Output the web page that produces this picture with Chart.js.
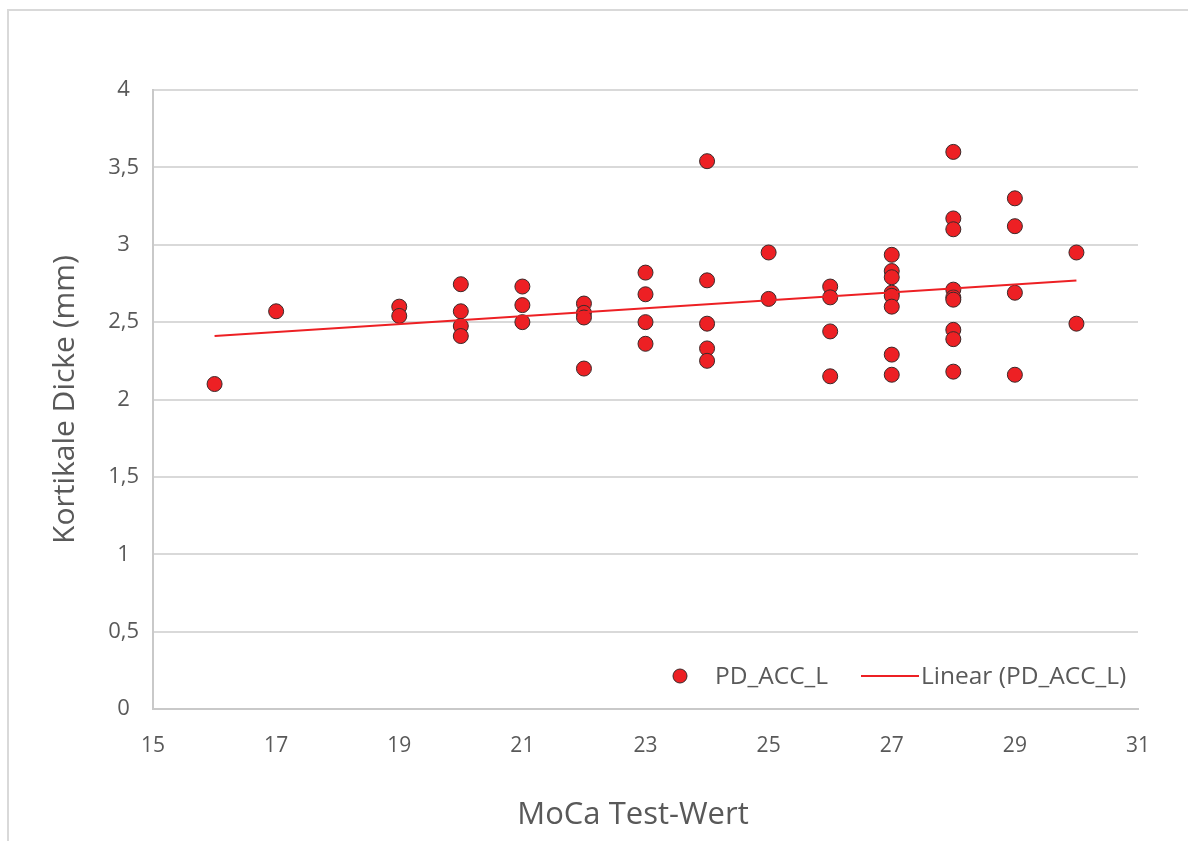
<!DOCTYPE html>
<html>
<head>
<meta charset="utf-8">
<script src="https://cdn.jsdelivr.net/npm/chart.js@4/dist/chart.umd.min.js"></script>
<style>
  html, body { margin: 0; padding: 0; background: #ffffff; }
  #wrap { position: relative; width: 1188px; height: 841px; }
</style>
</head>
<body>
<div id="wrap"><canvas id="c" width="1188" height="841"></canvas></div>
<script>
// MoCA score per subject (x) and cortical thickness in mm (y)
const mocaScores = [
  16,
  17,
  19, 19,
  20, 20, 20, 20,
  21, 21, 21,
  22, 22, 22, 22,
  23, 23, 23, 23,
  24, 24, 24, 24, 24,
  25, 25,
  26, 26, 26, 26,
  27, 27, 27, 27, 27, 27, 27, 27,
  28, 28, 28, 28, 28, 28, 28, 28, 28,
  29, 29, 29, 29,
  30, 30
];
const thickness = [
  2.10,
  2.57,
  2.60, 2.54,
  2.745, 2.57, 2.475, 2.41,
  2.73, 2.61, 2.50,
  2.62, 2.56, 2.53, 2.20,
  2.82, 2.68, 2.50, 2.36,
  3.54, 2.77, 2.49, 2.33, 2.25,
  2.95, 2.65,
  2.73, 2.66, 2.44, 2.15,
  2.935, 2.83, 2.79, 2.69, 2.67, 2.60, 2.29, 2.16,
  3.60, 3.17, 3.10, 2.71, 2.66, 2.645, 2.45, 2.39, 2.18,
  3.30, 3.12, 2.69, 2.16,
  2.95, 2.49
];
const seriesName = 'PD_ACC_L';
const trendName = 'Linear (PD_ACC_L)';
const xTicks = [15, 17, 19, 21, 23, 25, 27, 29, 31];
const yTicks = [0, 0.5, 1, 1.5, 2, 2.5, 3, 3.5, 4];
const xTitle = 'MoCa Test-Wert';
const yTitle = 'Kortikale Dicke (mm)';

// least-squares fit for the linear trend line
function linearFit(xs, ys) {
  const n = xs.length;
  let sx = 0, sy = 0, sxx = 0, sxy = 0;
  for (let i = 0; i < n; i++) { sx += xs[i]; sy += ys[i]; sxx += xs[i] * xs[i]; sxy += xs[i] * ys[i]; }
  const slope = (n * sxy - sx * sy) / (n * sxx - sx * sx);
  const intercept = (sy - slope * sx) / n;
  return { slope, intercept };
}
const fit = linearFit(mocaScores, thickness);
const xMin = Math.min(...mocaScores), xMax = Math.max(...mocaScores);
const trendPoints = [xMin, xMax].map(x => ({ x, y: fit.intercept + fit.slope * x }));

const points = mocaScores.map((x, i) => ({ x, y: thickness[i] }));

const TEXT = '#595959';
const GRID = '#d9d9d9';
const FONT = "'Open Sans', 'Liberation Sans', sans-serif";

// outer frame of the chart box
const framePlugin = {
  id: 'frame',
  beforeDraw(chart) {
    const ctx = chart.ctx;
    ctx.save();
    ctx.fillStyle = '#ffffff';
    ctx.fillRect(0, 0, chart.width, chart.height);
    ctx.strokeStyle = GRID;
    ctx.lineWidth = 2;
    ctx.beginPath();
    ctx.moveTo(8, chart.height);
    ctx.lineTo(8, 10);
    ctx.lineTo(chart.width, 10);
    ctx.stroke();
    ctx.restore();
  }
};

// horizontal axis title, centred on the whole chart box
const xTitlePlugin = {
  id: 'xTitle',
  afterDraw(chart) {
    const ctx = chart.ctx;
    ctx.save();
    ctx.font = '31px ' + FONT;
    ctx.fillStyle = TEXT;
    ctx.textAlign = 'center';
    ctx.textBaseline = 'middle';
    ctx.fillText(xTitle, 633, 815);
    ctx.restore();
  }
};

// legend placed inside the plot area, lower right
const legendPlugin = {
  id: 'insideLegend',
  afterDraw(chart) {
    const ctx = chart.ctx;
    const ds0 = chart.data.datasets[0];
    const ds1 = chart.data.datasets[1];
    const y = 676;
    ctx.save();
    ctx.font = '24.5px ' + FONT;
    ctx.textBaseline = 'middle';
    ctx.beginPath();
    ctx.arc(680, y, 7, 0, Math.PI * 2);
    ctx.fillStyle = ds0.backgroundColor;
    ctx.fill();
    ctx.lineWidth = 1;
    ctx.strokeStyle = ds0.borderColor;
    ctx.stroke();
    ctx.fillStyle = TEXT;
    ctx.textAlign = 'left';
    ctx.fillText(ds0.label, 715, y + 1);
    ctx.beginPath();
    ctx.moveTo(861, y);
    ctx.lineTo(919, y);
    ctx.strokeStyle = ds1.borderColor;
    ctx.lineWidth = 2;
    ctx.stroke();
    ctx.fillText(ds1.label, 921, y + 1);
    ctx.restore();
  }
};

new Chart(document.getElementById('c'), {
  data: {
    datasets: [
      {
        type: 'scatter',
        label: seriesName,
        data: points,
        backgroundColor: '#ed2024',
        borderColor: '#3a2a2a',
        borderWidth: 1,
        pointRadius: 7.5,
        pointHoverRadius: 7.5,
        order: 2
      },
      {
        type: 'line',
        label: trendName,
        data: trendPoints,
        borderColor: '#ed2024',
        borderWidth: 2,
        pointRadius: 0,
        fill: false,
        order: 1
      }
    ]
  },
  options: {
    responsive: false,
    animation: false,
    devicePixelRatio: 1,
    layout: { padding: { left: 0, right: 50, top: 90, bottom: 0 } },
    plugins: {
      legend: { display: false },
      tooltip: { enabled: false }
    },
    scales: {
      x: {
        type: 'linear',
        min: 15,
        max: 31,
        afterBuildTicks(scale) { scale.ticks = xTicks.map(v => ({ value: v })); },
        afterFit(scale) { scale.height = 132; },
        ticks: {
          color: TEXT,
          font: { family: FONT, size: 21 },
          padding: 24,
          maxRotation: 0,
          callback: v => String(v)
        },
        grid: { display: false, drawTicks: false },
        border: { display: true, color: '#c9c9c9', width: 2 },
        title: { display: false }
      },
      y: {
        type: 'linear',
        min: 0,
        max: 4,
        afterBuildTicks(scale) { scale.ticks = yTicks.map(v => ({ value: v })); },
        afterFit(scale) { scale.width = 153; },
        ticks: {
          color: TEXT,
          font: { family: FONT, size: 22 },
          padding: 14,
          crossAlign: 'center',
          callback: v => String(v).replace('.', ',')
        },
        grid: { color: GRID, lineWidth: 2, drawTicks: false },
        border: { display: true, color: '#c9c9c9', width: 2 },
        title: {
          display: true,
          text: yTitle,
          color: TEXT,
          font: { family: FONT, size: 30 },
          padding: { top: 47, bottom: 0 }
        }
      }
    }
  },
  plugins: [framePlugin, xTitlePlugin, legendPlugin]
});
</script>
</body>
</html>
